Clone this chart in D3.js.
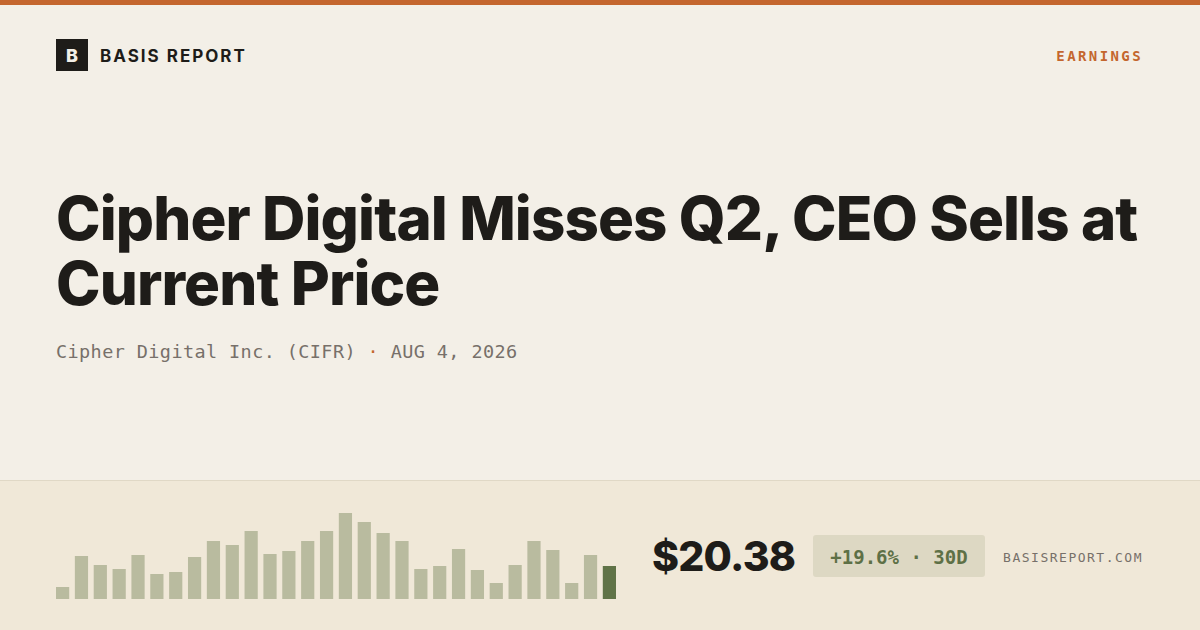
<!DOCTYPE html>
<html><head><meta charset="utf-8">
<script src="https://cdn.jsdelivr.net/npm/d3@7"></script>
<style>body{margin:0;background:#f3efe7}svg{display:block}</style>
</head><body>
<svg id="c" width="1200" height="630"></svg>
<script>
var bars = [12, 43, 34, 30, 44, 25, 27, 42, 58, 54, 68, 45, 48, 58, 68, 86, 77, 66, 58, 30, 33, 50, 29, 16, 34, 58, 49, 16, 44, 33];
var titleLines = ['Cipher Digital Misses Q2, CEO Sells at', 'Current Price'];
var price = '$20.38', change = '+19.6% · 30D';

var svg = d3.select('#c');
svg.append('rect').attr('width', 1200).attr('height', 630).attr('fill', '#f3efe7');
svg.append('rect').attr('width', 1200).attr('height', 5).attr('fill', '#c4662e');
svg.append('rect').attr('y', 480).attr('width', 1200).attr('height', 150).attr('fill', '#f0e8d8');
svg.append('line').attr('x1', 0).attr('x2', 1200).attr('y1', 480.5).attr('y2', 480.5).attr('stroke', '#e0d8c6');

// header
svg.append('rect').attr('x', 56).attr('y', 39).attr('width', 32).attr('height', 32).attr('fill', '#1e1c19');
svg.append('text').attr('x', 72).attr('y', 62).attr('text-anchor', 'middle').attr('fill', '#f3efe7')
  .style('font', '800 18px Inter').text('B');
svg.append('text').attr('x', 100).attr('y', 62).attr('fill', '#1e1c19')
  .style('font', '700 17px Inter').style('letter-spacing', '2px').text('BASIS REPORT');
svg.append('text').attr('x', 1143).attr('y', 61).attr('text-anchor', 'end').attr('fill', '#c4662e')
  .style('font', '700 14px "DejaVu Sans Mono"').style('letter-spacing', '2.4px').text('EARNINGS');

// title
svg.selectAll('text.t').data(titleLines).enter().append('text').attr('class', 't')
  .attr('x', 56).attr('y', function(d, i) { return 240 + i * 65; }).attr('fill', '#1e1c19')
  .style('font', '800 60px Inter').style('letter-spacing', '-0.9px').text(function(d) { return d; });

var sub = svg.append('text').attr('x', 56).attr('y', 358).attr('fill', '#77706a')
  .style('font', '18.5px "DejaVu Sans Mono"').style('letter-spacing', '0.4px');
sub.append('tspan').text('Cipher Digital Inc. (CIFR)');
sub.append('tspan').attr('fill', '#c4662e').text('  ·  ');
sub.append('tspan').text('AUG 4, 2026');

// bars
var x = d3.scaleBand().domain(d3.range(bars.length)).range([56, 616]).paddingInner(0.3).paddingOuter(0);
var y = d3.scaleLinear().domain([0, 86]).range([599, 513]);
svg.selectAll('rect.b').data(bars).enter().append('rect').attr('class', 'b')
  .attr('x', function(d, i) { return x(i); }).attr('width', x.bandwidth())
  .attr('y', function(d) { return y(d); }).attr('height', function(d) { return 599 - y(d); })
  .attr('fill', function(d, i) { return i === bars.length - 1 ? '#607347' : '#b9bb9f'; });

svg.append('text').attr('x', 652).attr('y', 571).attr('fill', '#1e1c19')
  .style('font', '800 41px Inter').style('letter-spacing', '-0.8px').text(price);
svg.append('rect').attr('x', 813).attr('y', 535).attr('width', 172).attr('height', 42).attr('rx', 3).attr('fill', '#ddd8c3');
svg.append('text').attr('x', 899).attr('y', 564).attr('text-anchor', 'middle').attr('fill', '#5e7046')
  .style('font', '700 19px "DejaVu Sans Mono"').text(change);
svg.append('text').attr('x', 1143).attr('y', 562).attr('text-anchor', 'end').attr('fill', '#77706a')
  .style('font', '13px "DejaVu Sans Mono"').style('letter-spacing', '1.5px').text('BASISREPORT.COM');
</script>
</body></html>
